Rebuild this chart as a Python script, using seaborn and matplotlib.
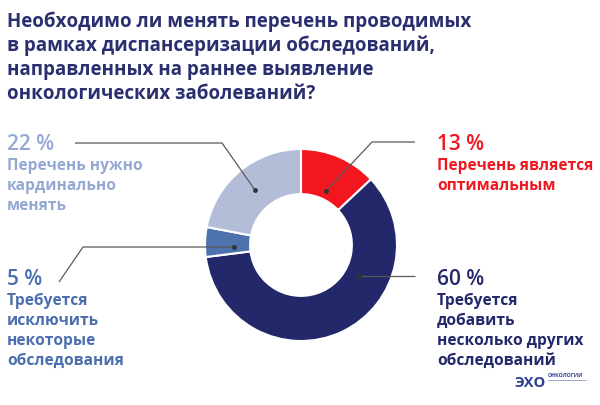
import matplotlib
matplotlib.use("Agg")
import matplotlib.pyplot as plt
import seaborn as sns

# survey answers, clockwise from 12 o'clock
shares = [13, 60, 5, 22]
pct_labels = ["13 %", "60 %", "5 %", "22 %"]
answers = [
    "Перечень является\nоптимальным",
    "Требуется\nдобавить\nнесколько других\nобследований",
    "Требуется\nисключить\nнекоторые\nобследования",
    "Перечень нужно\nкардинально\nменять",
]
title = ("Необходимо ли менять перечень проводимых\n"
         "в рамках диспансеризации обследований,\n"
         "направленных на раннее выявление\n"
         "онкологических заболеваний?")

sns.set_theme(style="white")
plt.rcParams["font.family"] = ["Open Sans", "DejaVu Sans"]

wedge_colors = ["#f4161f", "#23286a", "#4e72ad", "#b4bdd8"]
text_colors = ["#f01820", "#23286a", "#4b6fae", "#95a8d4"]

W, H = 600, 406
fig = plt.figure(figsize=(6, 4.06), dpi=100)
ax = fig.add_axes([0, 0, 1, 1])

cx, cy, R = 301, H - 246, 96
ax.pie(shares, colors=wedge_colors, startangle=90, counterclock=False,
       center=(cx, cy), radius=R, frame=True,
       wedgeprops=dict(width=R * 0.47, edgecolor="white", linewidth=1.5))
ax.set_xlim(0, W)
ax.set_ylim(0, H)
ax.axis("off")


def Y(y):
    return H - y


# leader lines (image pixel coords)
leaders = [
    [(326, 192), (372, 143), (415, 143)],
    [(359, 277), (415, 277)],
    [(234, 248), (83, 248), (59, 283)],
    [(255, 191), (222, 144), (75, 144)],
]
for pts in leaders:
    xs = [p[0] for p in pts]
    ys = [Y(p[1]) for p in pts]
    ax.plot(xs, ys, color="#5a5a5a", lw=0.9, solid_capstyle="butt")
    ax.plot(xs[0], ys[0], "o", color="#333333", ms=2.5)

# label blocks: x, y of percent line center
spots = [(437, 145), (437, 280), (7, 280), (7, 145)]
for (x, y), p, a, c in zip(spots, pct_labels, answers, text_colors):
    ax.text(x, Y(y), p, color=c, fontsize=15, fontweight="semibold",
            va="center", ha="left")
    for i, line in enumerate(a.split("\n")):
        ax.text(x, Y(y + 21 + i * 20), line, color=c, fontsize=11.2,
                fontweight="bold", va="center", ha="left")

# title
for i, line in enumerate(title.split("\n")):
    ax.text(7, Y(22 + i * 24), line, color="#2b2f70", fontsize=13.5,
            fontweight="bold", va="center", ha="left")

# logo
ax.text(546, Y(383), "ЭХО", color="#2a3f8f", fontsize=10.5, fontweight="bold",
        va="center", ha="right")
ax.text(548, Y(376), "ОНКОЛОГИИ", color="#2a3f8f", fontsize=3.8,
        fontweight="bold", va="center", ha="left")
ax.plot([548, 586], [Y(380.5), Y(380.5)], color="#8899bb", lw=0.6)

fig.savefig("out.png", dpi=100)
